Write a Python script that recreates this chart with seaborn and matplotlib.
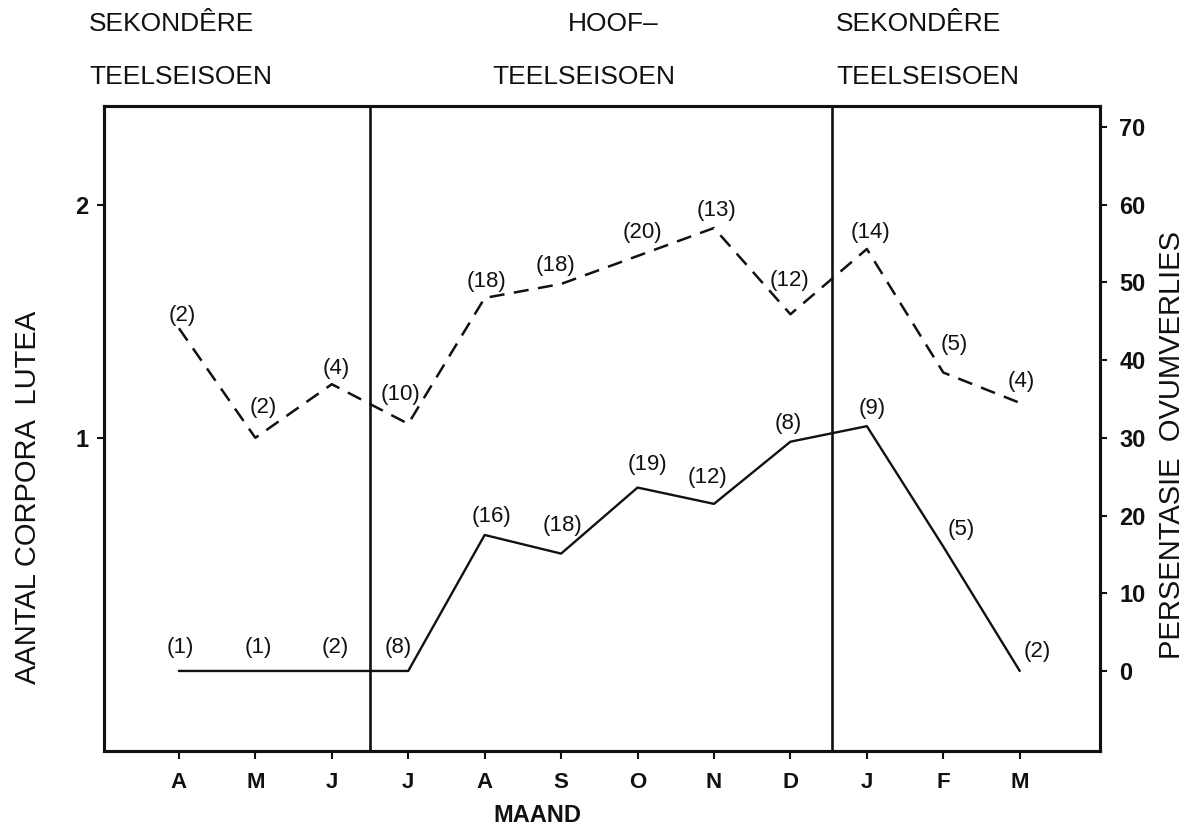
import matplotlib
matplotlib.use("Agg")
import matplotlib.pyplot as plt
import pandas as pd
import seaborn as sns

# Monthly values, April to March
months = ["A", "M", "J", "J", "A", "S", "O", "N", "D", "J", "F", "M"]
corpora_lutea = [1.47, 1.00, 1.23, 1.06, 1.60, 1.66, 1.78, 1.90, 1.53, 1.81, 1.28, 1.15]
corpora_n = [2, 2, 4, 10, 18, 18, 20, 13, 12, 14, 5, 4]
ovum_loss_pct = [0, 0, 0, 0, 17.5, 15.1, 23.6, 21.5, 29.5, 31.5, 16.0, 0]
ovum_n = [1, 1, 2, 8, 16, 18, 19, 12, 8, 9, 5, 2]
pct_ticks = [0, 10, 20, 30, 40, 50, 60, 70]
cl_ticks = [1, 2]

# Sample-size label offsets (pixels, x right / y up)
cl_label_off = [(3, 13), (8, 30), (4, 16), (-8, 29), (2, 16), (-6, 18),
                (5, 23), (3, 18), (-1, 34), (4, 16), (11, 28), (2, 21)]
pct_label_off = [(1, 23), (3, 23), (3, 23), (-10, 23), (7, 18), (1, 28),
                 (10, 23), (-6, 26), (-2, 18), (5, 18), (18, 17), (18, 19)]

season_edges = [2.5, 8.55]

sns.set_style("white")
plt.rcParams["font.family"] = ["Liberation Sans", "DejaVu Sans"]

W, H = 1190, 831
fig = plt.figure(figsize=(W / 100, H / 100), dpi=100)
ax = fig.add_axes([104 / W, 1 - 751 / H, (1100 - 104) / W, (751 - 106) / H])
ax2 = ax.twinx()

df = pd.DataFrame({"pos": range(len(months)), "cl": corpora_lutea, "pct": ovum_loss_pct})

ink = "#111111"
sns.lineplot(data=df, x="pos", y="cl", ax=ax, color=ink, linewidth=1.8,
             linestyle=(0, (6, 3.8)))
sns.lineplot(data=df, x="pos", y="pct", ax=ax2, color=ink, linewidth=1.7)

ax.set_xlim(-0.98, 12.05)
ax.set_ylim(-10.3 / 30, 72.7 / 30)
ax2.set_ylim(-10.3, 72.7)

for edge in season_edges:
    ax.axvline(edge, color=ink, linewidth=1.9)

ax.set_xticks(range(len(months)))
ax.set_xticklabels(months, fontweight="bold")
ax.set_yticks(cl_ticks)
ax.set_yticklabels([str(t) for t in cl_ticks], fontweight="bold")
ax2.set_yticks(pct_ticks)
ax2.set_yticklabels([str(t) for t in pct_ticks], fontweight="bold")

ax.tick_params(axis="x", direction="out", length=6, width=1.5, labelsize=16,
               pad=9, colors=ink, bottom=True)
ax.tick_params(axis="y", direction="out", length=5, width=1.5, labelsize=17,
               pad=6, colors=ink, left=True)
ax2.tick_params(axis="y", direction="out", length=5, width=1.5, labelsize=17,
                pad=9, colors=ink, right=True)

for a in (ax, ax2):
    a.set_xlabel("")
    a.set_ylabel("")
    for s in a.spines.values():
        s.set_visible(True)
        s.set_color(ink)
        s.set_linewidth(2.2)

for i, (v, n) in enumerate(zip(corpora_lutea, corpora_n)):
    ax.annotate(f"({n})", (i, v), xytext=cl_label_off[i], textcoords="offset pixels",
                ha="center", va="center", fontsize=16, color=ink)
for i, (v, n) in enumerate(zip(ovum_loss_pct, ovum_n)):
    ax2.annotate(f"({n})", (i, v), xytext=pct_label_off[i], textcoords="offset pixels",
                 ha="center", va="center", fontsize=16, color=ink)

def ftext(x, y, s, **kw):
    fig.text(x / W, 1 - y / H, s, color=ink, **kw)

hdr = dict(fontsize=19, ha="left", va="center")
ftext(89, 24, "SEKONDÊRE", **hdr)
ftext(89, 77, "TEELSEISOEN", **hdr)
ftext(568, 24, "HOOF–", **hdr)
ftext(492, 77, "TEELSEISOEN", **hdr)
ftext(836, 24, "SEKONDÊRE", **hdr)
ftext(836, 77, "TEELSEISOEN", **hdr)

ftext(537, 815, "MAAND", fontsize=17, ha="center", va="center", fontweight="bold")
ftext(28, 497, "AANTAL CORPORA  LUTEA", fontsize=21, rotation=90,
      ha="center", va="center")
ftext(1172, 445, "PERSENTASIE  OVUMVERLIES", fontsize=21, rotation=90,
      ha="center", va="center")

fig.savefig("out.png", dpi=100, facecolor="white")
